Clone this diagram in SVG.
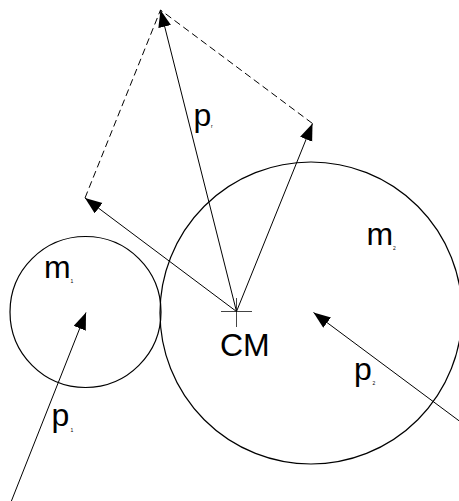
<svg xmlns="http://www.w3.org/2000/svg" width="459" height="501" viewBox="0 0 459 501">
<defs>
<style>
.ln{stroke:#000;stroke-width:1;fill:none}
.dash{stroke:#000;stroke-width:1;fill:none;stroke-dasharray:7,4}
.arr{stroke:#000;stroke-width:1;fill:none;marker-end:url(#ah)}
.circ{stroke:#000;stroke-width:1.2;fill:none}
.lbl{font-family:"Liberation Sans",Arial,sans-serif;font-size:32px;fill:#000}
.sub{font-family:"Liberation Sans",Arial,sans-serif;font-size:5px;fill:#000}
</style>
<marker id="ah" markerUnits="userSpaceOnUse" markerWidth="18" markerHeight="14" refX="17" refY="6.5" orient="auto">
<path d="M0,0 L17,6.5 L0,13 z" fill="#000"/>
</marker>
</defs>
<rect width="459" height="501" fill="#fff"/>
<g id="m1">
<circle class="circ" cx="85.5" cy="312" r="75.5"/>
<text class="lbl" x="44" y="278">m</text>
<text class="sub" x="70.5" y="283">1</text>
</g>
<g id="m2">
<circle class="circ" cx="311" cy="313" r="151"/>
<text class="lbl" x="366.5" y="245">m</text>
<text class="sub" x="393" y="250">2</text>
</g>
<g id="CM">
<path d="M221,311.5 H252 M236.5,298 V327" stroke="#444" stroke-width="1" fill="none"/>
<text class="lbl" x="220" y="356">CM</text>
</g>
<g id="connectors">
<path class="dash" d="M85,198 L160.5,10 L312.5,123.5"/>
<line class="arr" x1="236.5" y1="311.5" x2="160.5" y2="10"/>
<line class="arr" x1="236.5" y1="311.5" x2="312.5" y2="123.5"/>
<line class="arr" x1="236.5" y1="311.5" x2="85" y2="198"/>
<line class="arr" x1="11" y1="502" x2="86" y2="312.5"/>
<line class="arr" x1="460" y1="421.5" x2="313.5" y2="312.5"/>
</g>
<g id="labels">
<text class="lbl" x="51.5" y="425.5">p</text>
<text class="sub" x="70.5" y="432">1</text>
<text class="lbl" x="193.5" y="126">p</text>
<text class="sub" x="211" y="128">r</text>
<text class="lbl" x="354" y="380">p</text>
<text class="sub" x="372.5" y="385">2</text>
</g>
</svg>
